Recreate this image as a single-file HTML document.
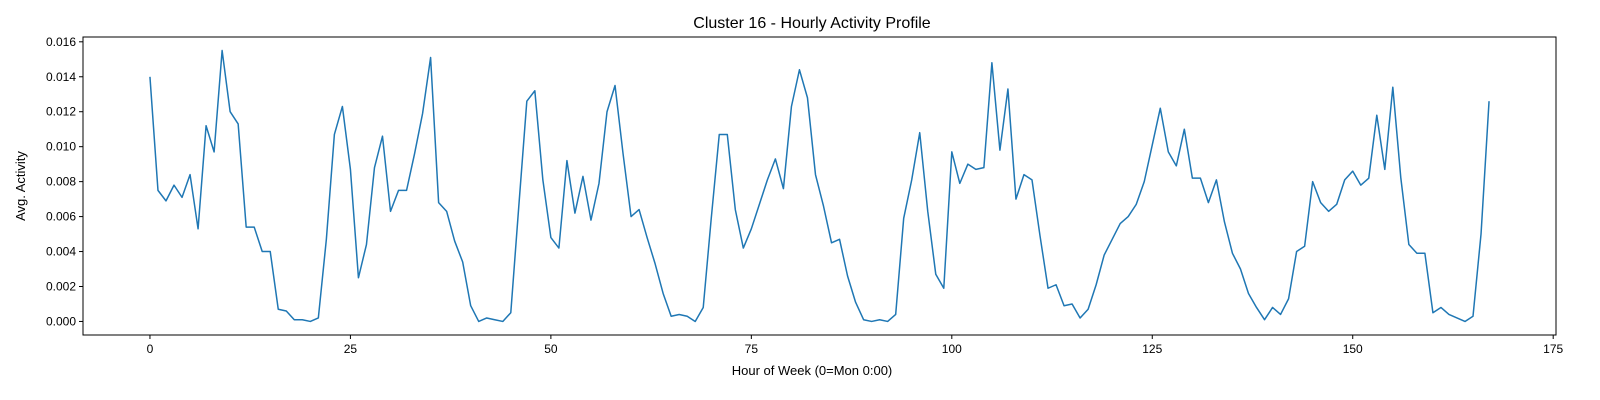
<!DOCTYPE html>
<html><head><meta charset="utf-8"><style>
html,body{margin:0;padding:0;background:#fff;overflow:hidden;width:1600px;height:400px;}
svg{display:block;font-family:"Liberation Sans","DejaVu Sans",sans-serif;}
</style></head><body>
<svg id="chart" width="1600" height="400" viewBox="0 0 1600 400">
<rect x="0" y="0" width="1600" height="400" fill="#fff"/>
<text x="812" y="28" font-size="16" text-anchor="middle">Cluster 16 - Hourly Activity Profile</text>
<g id="xticks"></g><g id="yticks"></g>
<path id="line" fill="none" stroke="#1f77b4" stroke-width="1.5" stroke-linejoin="round"/>
<rect x="83" y="37" width="1473" height="298" fill="none" stroke="#000" stroke-width="1"/>
<text x="812" y="375" font-size="13" text-anchor="middle">Hour of Week (0=Mon 0:00)</text>
<text transform="translate(25,186) rotate(-90)" font-size="13" text-anchor="middle">Avg. Activity</text>
</svg>
<script>
const activity = [
.0140,.0075,.0069,.0078,.0071,.0084,.0053,.0112,.0097,.0155,.0120,.0113,.0054,.0054,.0040,.0040,.0007,.0006,.0001,.0001,
.0000,.0002,.0047,.0107,.0123,.0087,.0025,.0044,.0088,.0106,.0063,.0075,.0075,.0096,.0119,.0151,.0068,.0063,.0046,.0034,
.0009,.0000,.0002,.0001,.0000,.0005,.0066,.0126,.0132,.0081,.0048,.0042,.0092,.0062,.0083,.0058,.0079,.0120,.0135,.0096,
.0060,.0064,.0048,.0033,.0016,.0003,.0004,.0003,.0000,.0008,.0059,.0107,.0107,.0064,.0042,.0053,.0067,.0081,.0093,.0076,
.0123,.0144,.0128,.0084,.0066,.0045,.0047,.0026,.0011,.0001,.0000,.0001,.0000,.0004,.0059,.0081,.0108,.0063,.0027,.0019,
.0097,.0079,.0090,.0087,.0088,.0148,.0098,.0133,.0070,.0084,.0081,.0049,.0019,.0021,.0009,.0010,.0002,.0007,.0021,.0038,
.0047,.0056,.0060,.0067,.0080,.0101,.0122,.0097,.0089,.0110,.0082,.0082,.0068,.0081,.0057,.0039,.0030,.0016,.0008,.0001,
.0008,.0004,.0013,.0040,.0043,.0080,.0068,.0063,.0067,.0081,.0086,.0078,.0082,.0118,.0087,.0134,.0082,.0044,.0039,.0039,
.0005,.0008,.0004,.0002,.0000,.0003,.0050,.0126];
const xTicks = [0,25,50,75,100,125,150,175];
const yTicks = [0,0.002,0.004,0.006,0.008,0.010,0.012,0.014,0.016];
const yTickLabels = ["0.000","0.002","0.004","0.006","0.008","0.010","0.012","0.014","0.016"];

const L=83,R=1556,T=37,B=335;
const n=activity.length, xmin=-(n-1)*0.05, xmax=(n-1)*1.05;
const vmax=Math.max(...activity), vmin=Math.min(...activity), m=(vmax-vmin)*0.05;
const ymin=vmin-m, ymax=vmax+m;
const sx=v=>L+(v-xmin)/(xmax-xmin)*(R-L);
const sy=v=>B-(v-ymin)/(ymax-ymin)*(B-T);
const NS="http://www.w3.org/2000/svg";
let d="";
activity.forEach((v,i)=>{d+=(i?"L":"M")+sx(i).toFixed(2)+","+sy(v).toFixed(2);});
document.getElementById("line").setAttribute("d",d);
const xg=document.getElementById("xticks");
xTicks.forEach(t=>{
  const x=sx(t);
  const l=document.createElementNS(NS,"line");
  l.setAttribute("x1",x);l.setAttribute("x2",x);l.setAttribute("y1",B);l.setAttribute("y2",B+4);l.setAttribute("stroke","#000");
  
  
  xg.appendChild(l);
  const tx=document.createElementNS(NS,"text");
  tx.setAttribute("x",x);tx.setAttribute("y",B+18);tx.setAttribute("font-size","12");tx.setAttribute("text-anchor","middle");
  tx.textContent=t;
  
  
  xg.appendChild(tx);
});
const yg=document.getElementById("yticks");
yTicks.forEach((t,i)=>{
  const y=sy(t);
  const l=document.createElementNS(NS,"line");
  l.setAttribute("x1",L-4);l.setAttribute("x2",L);l.setAttribute("y1",y);l.setAttribute("y2",y);l.setAttribute("stroke","#000");
  
  
  yg.appendChild(l);
  const tx=document.createElementNS(NS,"text");
  tx.setAttribute("x",L-7);tx.setAttribute("y",y+4);tx.setAttribute("font-size","12");tx.setAttribute("text-anchor","end");
  tx.textContent=yTickLabels[i];
  
  
  yg.appendChild(tx);
});
</script>
</body></html>
